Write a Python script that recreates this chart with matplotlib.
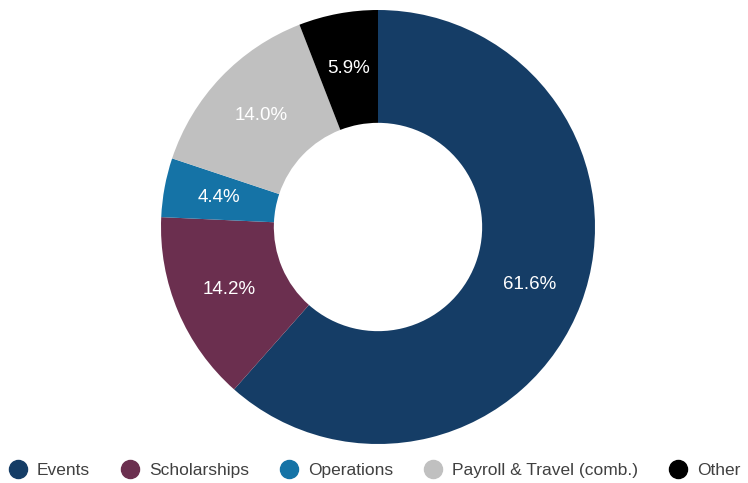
import numpy as np
import matplotlib.pyplot as plt
from matplotlib.lines import Line2D

plt.rcParams['font.family'] = ['Liberation Sans', 'DejaVu Sans']

# 数据
categories = ['Events', 'Scholarships', 'Operations', 'Payroll & Travel (comb.)', 'Other']
shares = [61.6, 14.2, 4.4, 14.0, 5.9]
colors = ['#153d66', '#6b2f4f', '#1573a6', '#c0c0c0', '#000000']

fig = plt.figure(figsize=(7.48, 4.83), dpi=100)

# 圆环图位置（中心约在 378, 227，外半径 217 像素）
ax = fig.add_axes([(378 - 217) / 748, (483 - 227 - 217) / 483, 434 / 748, 434 / 483])

wedges, _ = ax.pie(shares, colors=colors, startangle=90, counterclock=False,
                   wedgeprops=dict(width=0.52, linewidth=0))
ax.set_xlim(-1, 1)
ax.set_ylim(-1, 1)
ax.set_aspect('equal')

# 百分比标签放在圆环中间
for w, v in zip(wedges, shares):
    mid = np.deg2rad((w.theta1 + w.theta2) / 2)
    ax.text(0.745 * np.cos(mid), 0.745 * np.sin(mid), f'{v:.1f}%',
            color='white', fontsize=13.5, ha='center', va='center')

# 图例
handles = [Line2D([], [], marker='o', linestyle='', markersize=13,
                  markerfacecolor=c, markeredgecolor=c) for c in colors]
leg = fig.legend(handles, categories, loc='center', bbox_to_anchor=(0.5, 1 - 470 / 483),
                 ncol=5, frameon=False, fontsize=12.5, handletextpad=0.5,
                 columnspacing=1.7, handlelength=1.2, labelcolor='#404040')

fig.savefig('out.png', dpi=100)
